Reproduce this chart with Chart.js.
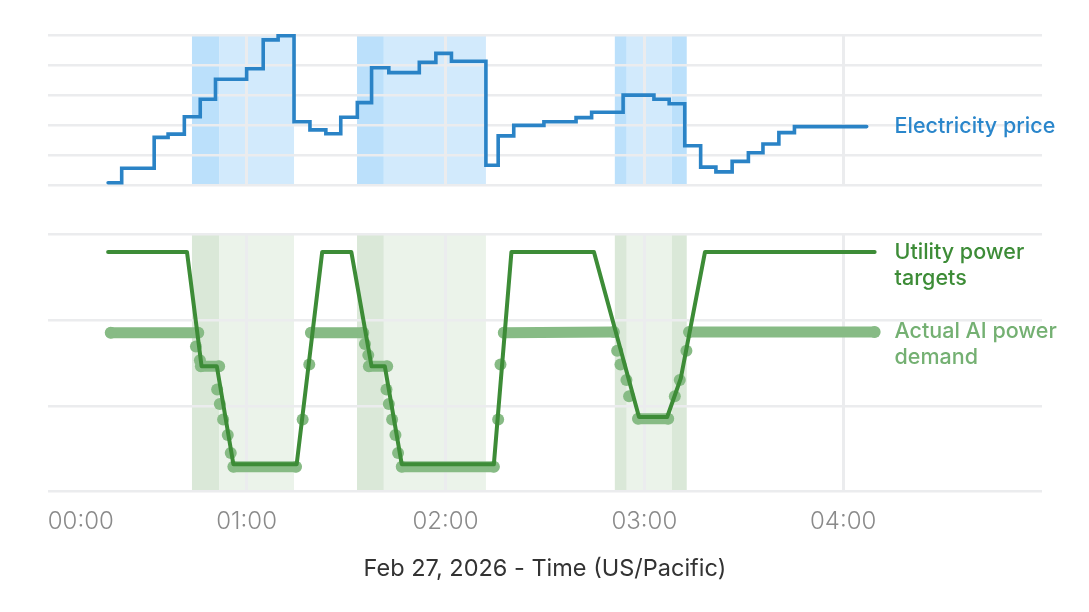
<!DOCTYPE html>
<html>
<head>
<meta charset="utf-8">
<title>Electricity price and AI power demand</title>
<script src="https://cdn.jsdelivr.net/npm/chart.js@4.4.1/dist/chart.umd.min.js"></script>
<style>
  body { margin: 0; background: #fff; }
  #wrap { position: relative; width: 1089px; height: 612px; }
  .panel { position: absolute; left: 0; width: 1089px; }
  #top-panel { top: 0; height: 210px; }
  #bottom-panel { top: 210px; height: 402px; }
</style>
</head>
<body>
<div id="wrap">
  <div class="panel" id="top-panel"><canvas id="priceChart"></canvas></div>
  <div class="panel" id="bottom-panel"><canvas id="powerChart"></canvas></div>
</div>
<script>
// Data. x = minutes after 00:00
const priceMinutes = [18.2, 22.3, 32.1, 36.3, 41.2, 46.0, 50.6, 60.0, 65.0, 69.5,
                      74.3, 79.1, 83.9, 88.4, 93.4, 97.7, 102.9, 112.1, 117.1, 121.8,
                      132.2, 135.9, 140.6, 149.7, 159.4, 164.1, 173.6, 182.9, 187.5, 192.2,
                      197.0, 201.6, 206.5, 211.4, 215.8, 220.6, 225.3, 247.1];
const priceValues = [0.10, 0.58, 1.61, 1.72, 2.30, 2.88, 3.55, 3.90, 4.86, 5.00,
                     2.13, 1.86, 1.73, 2.28, 2.77, 3.93, 3.77, 4.11, 4.41, 4.15,
                     0.68, 1.66, 2.01, 2.13, 2.27, 2.45, 3.02, 2.88, 2.73, 1.33,
                     0.62, 0.46, 0.81, 1.10, 1.39, 1.77, 1.97, 1.97];

const targetMinutes = [18.2, 42.0, 46.4, 51.0, 56.0, 75.1, 82.8, 91.6, 97.7, 101.7,
                       106.8, 134.6, 139.9, 164.8, 178.4, 186.9, 191.0, 198.3, 249.5];
const targetValues = [2.79, 2.79, 1.46, 1.46, 0.32, 0.32, 2.79, 2.79, 1.46, 1.46,
                      0.32, 0.32, 2.79, 2.79, 0.87, 0.87, 1.32, 2.79, 2.79];

const demandMinutes = [19.0, 45.4, 44.7, 45.9, 46.2, 51.7, 51.1, 51.9, 52.9, 54.3,
                       55.2, 56.0, 74.9, 76.9, 78.9, 79.4, 95.2, 95.7, 96.7, 96.9,
                       102.4, 102.2, 102.9, 103.9, 104.9, 105.7, 106.8, 134.6, 135.9, 136.6,
                       137.6, 170.8, 171.8, 172.8, 174.6, 175.4, 178.1, 187.2, 189.2, 190.7,
                       192.7, 193.5, 249.5];
const demandValues = [1.85, 1.85, 1.69, 1.53, 1.46, 1.46, 1.19, 1.02, 0.84, 0.66,
                      0.45, 0.29, 0.29, 0.84, 1.48, 1.85, 1.85, 1.72, 1.59, 1.46,
                      1.46, 1.19, 1.02, 0.84, 0.66, 0.45, 0.29, 0.29, 0.84, 1.48,
                      1.85, 1.86, 1.64, 1.48, 1.30, 1.11, 0.85, 0.85, 1.11, 1.30,
                      1.64, 1.86, 1.86];

// Shaded periods (minutes), dark = edge part of each window
const bandStarts = [43.5, 51.7, 93.3, 101.4, 171.1, 174.7, 188.3];
const bandEnds   = [51.7, 74.3, 101.4, 132.2, 174.7, 188.3, 192.8];
const bandDark   = [true, false, true, false, true, false, true];

const hourTicks = [0, 60, 120, 180, 240, 300];
const hourLabels = ['00:00', '01:00', '02:00', '03:00', '04:00', ''];
const xTitle = 'Feb 27, 2026 - Time (US/Pacific)';
const priceLabel = ['Electricity price'];
const targetLabel = ['Utility power', 'targets'];
const demandLabel = ['Actual AI power', 'demand'];

const FONT = 'Inter';
const GRID = '#ebecee';
const LABEL_AT = 255.5; // minute where the side labels start

function toPoints(xs, ys) {
    return xs.map((x, i) => ({ x: x, y: ys[i] }));
}

function setHourTicks(scale) {
    scale.ticks = hourTicks.map(v => ({ value: v }));
}

// no vertical line on the left / right edge
function vGridColor(c) {
    const v = c.tick && c.tick.value;
    return (v === 0 || v === 300) ? 'rgba(0,0,0,0)' : GRID;
}

// Background windows, drawn under the grid
const bandsPlugin = {
    id: 'bands',
    beforeDraw(chart, args, opts) {
        const { ctx, chartArea: a, scales: { x } } = chart;
        ctx.save();
        bandStarts.forEach((s, i) => {
            const x0 = x.getPixelForValue(s);
            const x1 = x.getPixelForValue(bandEnds[i]);
            ctx.fillStyle = bandDark[i] ? opts.dark : opts.light;
            ctx.fillRect(x0, a.top, x1 - x0, a.bottom - a.top);
        });
        ctx.restore();
    }
};

// Series names written to the right of the last point
const sideLabelPlugin = {
    id: 'sideLabels',
    afterDatasetsDraw(chart) {
        const { ctx, scales: { x, y } } = chart;
        const left = x.getPixelForValue(LABEL_AT);
        ctx.save();
        ctx.font = '500 21.5px ' + FONT;
        ctx.textBaseline = 'middle';
        ctx.textAlign = 'left';
        chart.data.datasets.forEach(ds => {
            if (!ds.sideLabel) return;
            const last = ds.data[ds.data.length - 1];
            const top = y.getPixelForValue(last.y);
            ctx.fillStyle = ds.labelColor;
            ds.sideLabel.forEach((line, i) => ctx.fillText(line, left, top + i * 26));
        });
        ctx.restore();
    }
};

function baseOptions(padding) {
    return {
        responsive: true,
        maintainAspectRatio: false,
        animation: false,
        events: [],
        layout: { padding: padding },
        plugins: { legend: { display: false }, tooltip: { enabled: false } }
    };
}

function renderPriceChart() {
    const ctx = document.getElementById('priceChart').getContext('2d');
    const opts = baseOptions({ top: 35.7, bottom: 24.3, left: 47.8, right: 47 });
    opts.plugins.bands = { dark: '#bbe0fb', light: '#d2eafc' };
    opts.scales = {
        x: {
            type: 'linear', min: 0, max: 300,
            border: { display: false },
            grid: { color: vGridColor, lineWidth: 3, drawTicks: false },
            ticks: { display: false },
            afterBuildTicks: setHourTicks,
            afterFit: s => { s.height = 0; }
        },
        y: {
            min: 0, max: 5,
            border: { display: false },
            grid: { color: GRID, lineWidth: 2.5, drawTicks: false },
            ticks: { display: false, stepSize: 1 },
            afterFit: s => { s.width = 0; }
        }
    };
    new Chart(ctx, {
        type: 'line',
        data: {
            datasets: [{
                label: priceLabel.join(' '),
                sideLabel: priceLabel,
                labelColor: '#2a86cb',
                data: toPoints(priceMinutes, priceValues),
                stepped: true,
                borderColor: '#2a83c6',
                borderWidth: 3.6,
                borderCapStyle: 'round',
                pointRadius: 0,
                clip: false
            }]
        },
        options: opts,
        plugins: [bandsPlugin, sideLabelPlugin]
    });
}

function renderPowerChart() {
    const ctx = document.getElementById('powerChart').getContext('2d');
    const opts = baseOptions({ top: 24, bottom: 0, left: 47.8, right: 47 });
    opts.plugins.bands = { dark: '#dae8d8', light: '#ebf3ea' };
    opts.scales = {
        x: {
            type: 'linear', min: 0, max: 300,
            border: { display: false },
            grid: { color: vGridColor, lineWidth: 3, drawTicks: false },
            ticks: {
                align: 'inner', maxRotation: 0, autoSkip: false, padding: 16,
                color: '#8a8a8a',
                font: { family: FONT, size: 24, weight: 300 },
                callback: (v, i) => hourLabels[i]
            },
            title: {
                display: true, text: xTitle, color: '#333333',
                font: { family: FONT, size: 23.5, weight: 400 },
                padding: { top: 0, bottom: 29 }
            },
            afterBuildTicks: setHourTicks,
            afterFit: s => { s.height = 120.3; }
        },
        y: {
            min: 0, max: 3,
            border: { display: false },
            grid: { color: GRID, lineWidth: 2.5, drawTicks: false },
            ticks: { display: false, stepSize: 1 },
            afterFit: s => { s.width = 0; }
        }
    };
    // steep parts of the measured demand show only as dots
    const steep = c => Math.abs(c.p1.y - c.p0.y) > Math.abs(c.p1.x - c.p0.x);
    new Chart(ctx, {
        type: 'line',
        data: {
            datasets: [{
                label: targetLabel.join(' '),
                sideLabel: targetLabel,
                labelColor: '#3d8c37',
                data: toPoints(targetMinutes, targetValues),
                borderColor: '#3d8c37',
                borderWidth: 4,
                borderCapStyle: 'round',
                borderJoinStyle: 'round',
                pointRadius: 0,
                clip: false
            }, {
                label: demandLabel.join(' '),
                sideLabel: demandLabel,
                labelColor: '#74b072',
                data: toPoints(demandMinutes, demandValues),
                borderColor: '#87bb85',
                borderWidth: 11,
                borderCapStyle: 'round',
                borderJoinStyle: 'round',
                pointRadius: 6,
                pointBorderWidth: 0,
                pointBackgroundColor: '#87bb85',
                segment: { borderColor: c => steep(c) ? 'rgba(0,0,0,0)' : undefined },
                clip: false
            }]
        },
        options: opts,
        plugins: [bandsPlugin, sideLabelPlugin]
    });
}

renderPriceChart();
renderPowerChart();
</script>
</body>
</html>
